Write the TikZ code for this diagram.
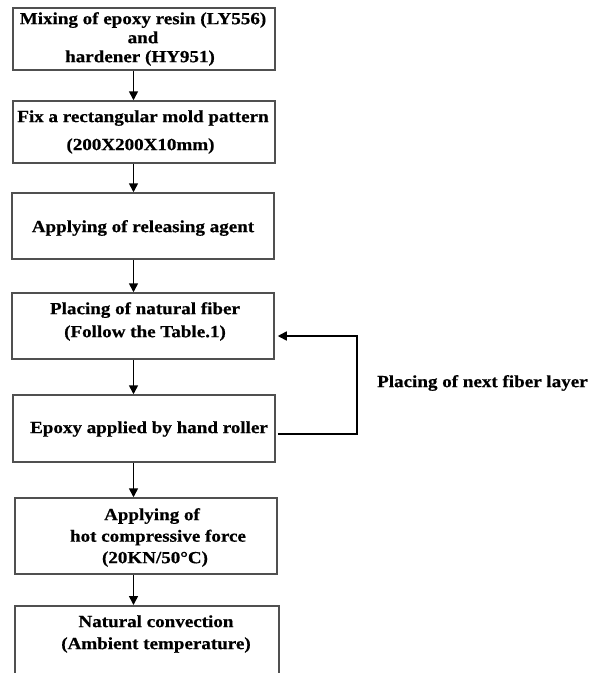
\documentclass[tikz,border=0pt]{standalone}
\usepackage{fontspec}
\setmainfont{Liberation Serif}[FakeStretch=1.12, BoldFeatures={FakeBold=0.6}]
\usetikzlibrary{arrows.meta}
\definecolor{bord}{HTML}{505050}
\begin{document}
\begin{tikzpicture}[x=1pt,y=-1pt,
  box/.style={draw=bord, line width=1.5pt, minimum width=262pt, inner sep=0pt},
  txt/.style={font=\fontsize{17}{19}\selectfont\bfseries, align=center, inner sep=0pt},
  arr/.style={-{Triangle[length=9pt,width=9pt]}, line width=1.6pt, black}]
\useasboundingbox (0,0) rectangle (593,673);
% boxes
\node[box, minimum height=62pt] (b1) at (144,39) {};
\node[box, minimum height=62pt] (b2) at (144,132) {};
\node[box, minimum height=66pt] (b3) at (143,226) {};
\node[box, minimum height=66pt] (b4) at (143,326) {};
\node[box, minimum height=67pt] (b5) at (144,428.5) {};
\node[box, minimum height=76pt] (b6) at (146,536) {};
\node[box, minimum width=264pt, minimum height=100pt, anchor=north] (b7) at (147,605) {};
% texts
\node[txt] (t1) at (143,39) {Mixing of epoxy resin (LY556)\\and\hspace*{34pt}\\hardener (HY951)\hspace*{6pt}};
\node[txt] (t2) at (143,132) {Fix a rectangular mold pattern\\[9pt](200X200X10mm)\hspace*{5pt}};
\node[txt] (t3) at (143,228) {Applying of releasing agent};
\node[txt] (t4) at (145,321.5) {Placing of natural fiber\\[4pt](Follow the Table.1)};
\node[txt] (t5) at (149,429) {Epoxy applied by hand roller};
\node[txt] (t6) at (155,537.5) {Applying of\hspace*{6pt}\\[2.5pt]\hspace*{6pt}hot compressive force\\[2.5pt](20KN/50°C)};
\node[txt] (t7) at (156,634) {Natural convection\\[3pt](Ambient temperature)};
\node[txt, anchor=west] (lab) at (377,383) {Placing of next fiber layer};
% connectors
\coordinate (ax) at (133.5,0);
\draw[arr] (b1.south -| ax) -- (b2.north -| ax);
\draw[arr] (b2.south -| ax) -- (b3.north -| ax);
\draw[arr] (b3.south -| ax) -- (b4.north -| ax);
\draw[arr] (b4.south -| ax) -- (b5.north -| ax);
\draw[arr] (b5.south -| ax) -- (b6.north -| ax);
\draw[arr] (b6.south -| ax) -- (b7.north -| ax);
\coordinate (fb1) at (357,434);
\coordinate (fb2) at (357,336);
\draw[arr, shorten <=2pt, shorten >=3pt] (b5.east |- fb1) -- (fb1) |- (b4.east |- fb2);
\end{tikzpicture}
\end{document}
